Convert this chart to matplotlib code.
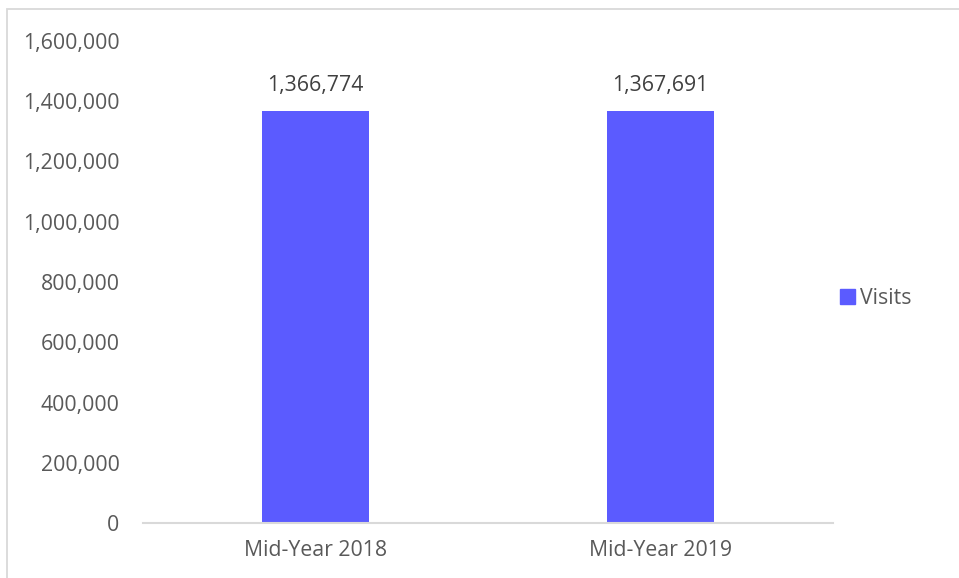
import matplotlib
matplotlib.use("Agg")
import matplotlib.pyplot as plt
from matplotlib.patches import Rectangle, Patch
from matplotlib.ticker import FuncFormatter

# visits per half-year period
periods = ["Mid-Year 2018", "Mid-Year 2019"]
visits = [1366774, 1367691]
series_name = "Visits"

BAR_COLOR = "#5b5bff"
TEXT_COLOR = "#595959"
LINE_COLOR = "#d9d9d9"
FS = 15.3

plt.rcParams["font.family"] = ["Open Sans", "DejaVu Sans"]

W, H = 959, 578
fig = plt.figure(figsize=(W / 100, H / 100), dpi=100)

# chart-area border
fig.patches.append(Rectangle((7 / W, -0.05), 1.1, (H - 9) / H + 0.05,
                             transform=fig.transFigure, fill=False,
                             edgecolor=LINE_COLOR, linewidth=1.3))

ax = fig.add_axes([143 / W, (H - 523) / H, 690 / W, 482 / H])
x = range(len(periods))
bars = ax.bar(x, visits, width=0.313, color=BAR_COLOR)

for b, v in zip(bars, visits):
    ax.annotate(f"{v:,}", (b.get_x() + b.get_width() / 2, v),
                textcoords="offset points", xytext=(0, 11),
                ha="center", va="bottom", fontsize=FS, color="#404040")

ax.set_xlim(-0.5, 1.5)
ax.set_ylim(0, 1600000)
ax.set_yticks(range(0, 1600001, 200000))
ax.yaxis.set_major_formatter(FuncFormatter(lambda v, p: f"{int(v):,}"))
ax.set_xticks(list(x))
ax.set_xticklabels(periods)
ax.tick_params(axis="y", length=0, pad=17, labelsize=FS, labelcolor=TEXT_COLOR)
ax.tick_params(axis="x", length=0, pad=12, labelsize=FS, labelcolor=TEXT_COLOR)

for s in ["top", "right", "left"]:
    ax.spines[s].set_visible(False)
ax.spines["bottom"].set_color(LINE_COLOR)
ax.spines["bottom"].set_linewidth(1.5)

fig.legend(handles=[Patch(color=BAR_COLOR, label=series_name)],
           loc="center left", bbox_to_anchor=(821 / W, (H - 298) / H),
           frameon=False, fontsize=FS, labelcolor=TEXT_COLOR,
           handlelength=0.7, handleheight=0.7, handletextpad=0.25)

fig.savefig("out.png", dpi=100)
